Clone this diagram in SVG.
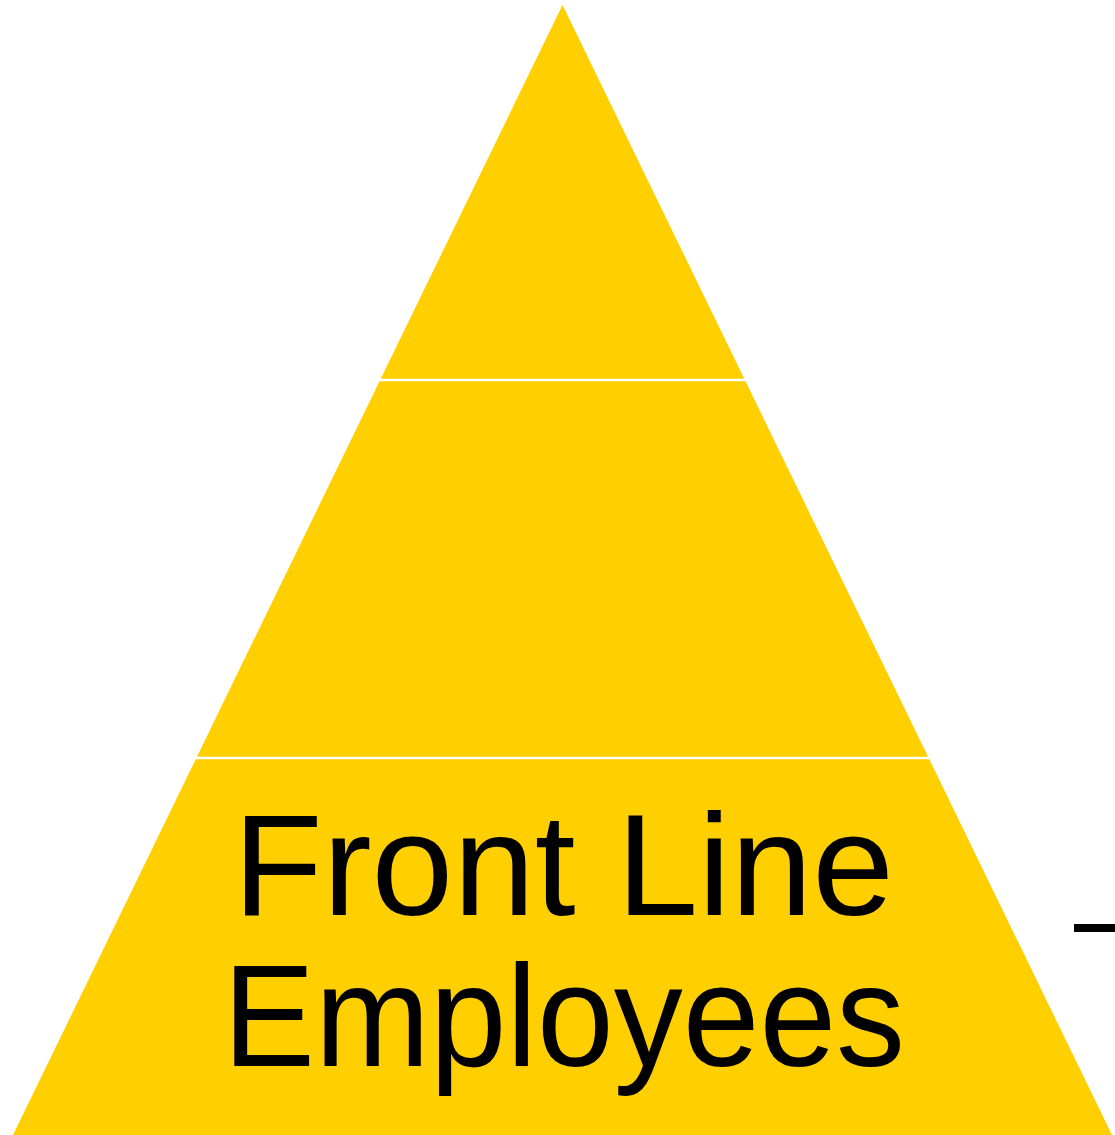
<svg xmlns="http://www.w3.org/2000/svg" width="1115" height="1135" viewBox="0 0 1115 1135">
<style>
.tier{fill:#FFCF00;stroke:none}
.sep{stroke:#FFFFFF;stroke-width:2.5}
.lbl{font-family:"Liberation Sans",Arial,sans-serif;font-size:145px;fill:#000;text-anchor:middle}
</style>
<rect width="1115" height="1135" fill="#FFFFFF"/>
<g id="pyramid">
<polygon class="tier" points="562.5,5 1112,1135 13,1135"/>
</g>
<g id="connectors">
<line class="sep" x1="370" y1="380" x2="760" y2="380"/>
<line class="sep" x1="190" y1="758" x2="940" y2="758"/>
</g>
<g id="tier-bottom">
<text class="lbl" x="563.5" y="915" textLength="661" lengthAdjust="spacingAndGlyphs">Front Line</text>
<text class="lbl" x="564" y="1066" textLength="682" lengthAdjust="spacingAndGlyphs">Employees</text>
</g>
<rect x="1074" y="924" width="41" height="8" fill="#000"/>
</svg>
